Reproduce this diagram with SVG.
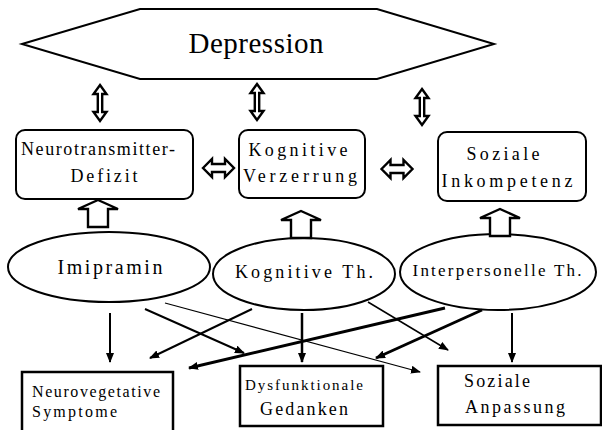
<svg xmlns="http://www.w3.org/2000/svg" width="602" height="430" viewBox="0 0 602 430">
<style>
text{font-family:"Liberation Serif","DejaVu Serif","Times New Roman",Times,serif;fill:#000;text-anchor:middle}
.shape{fill:#fff;stroke:#000;stroke-width:2}
.box{fill:#fff;stroke:#000;stroke-width:2.5}
.hol{fill:#fff;stroke:#000;stroke-width:2.4;stroke-linejoin:miter}
.c{fill:none;stroke:#000}
</style>
<defs>
<marker id="ah" viewBox="0 0 10 8" refX="9" refY="4" markerWidth="10" markerHeight="8" markerUnits="userSpaceOnUse" orient="auto">
<path d="M0,0 L10,4 L0,8 Z" fill="#000"/>
</marker>
<path id="vda" d="M0,-18 L6.5,-9 L2.2,-9 L2.2,9 L6.5,9 L0,18 L-6.5,9 L-2.2,9 L-2.2,-9 L-6.5,-9 Z"/>
<path id="hda" d="M-15.5,0 L-6.5,-9 L-6.5,-4 L6.5,-4 L6.5,-9 L15.5,0 L6.5,9 L6.5,4 L-6.5,4 L-6.5,9 Z"/>
<path id="up" d="M0,0 L20,9 L10,9 L10,27 L-10,27 L-10,9 L-20,9 Z"/>
</defs>

<g id="depression">
<polygon class="shape" points="22,44 140,9 377,9 494,44 377,79 140,79"/>
<text x="256" y="53" font-size="29" textLength="135" lengthAdjust="spacing">Depression</text>
</g>

<g id="neurotransmitter">
<rect class="shape" x="16" y="130" width="177" height="69" rx="9"/>
<text x="98" y="155" font-size="18" textLength="154" lengthAdjust="spacing">Neurotransmitter-</text>
<text x="104" y="182" font-size="18" textLength="67" lengthAdjust="spacing">Defizit</text>
</g>

<g id="kognitive-verzerrung">
<rect class="shape" x="239" y="130" width="126" height="68" rx="9"/>
<text x="298" y="156" font-size="18" textLength="99" lengthAdjust="spacing">Kognitive</text>
<text x="300" y="182" font-size="18" textLength="114" lengthAdjust="spacing">Verzerrung</text>
</g>

<g id="soziale-inkompetenz">
<rect class="shape" x="438" y="132" width="148" height="69" rx="9"/>
<text x="503" y="160" font-size="18" textLength="73" lengthAdjust="spacing">Soziale</text>
<text x="507" y="187" font-size="18" textLength="131" lengthAdjust="spacing">Inkompetenz</text>
</g>

<g id="imipramin">
<ellipse class="shape" cx="109" cy="267" rx="101" ry="35"/>
<text x="110" y="274" font-size="20" textLength="105" lengthAdjust="spacing">Imipramin</text>
</g>

<g id="kognitive-th">
<ellipse class="shape" cx="304" cy="274" rx="91" ry="36"/>
<text x="304" y="278" font-size="18" textLength="138" lengthAdjust="spacing">Kognitive Th.</text>
</g>

<g id="interpersonelle-th">
<ellipse class="shape" cx="498" cy="272" rx="98" ry="38"/>
<text x="497" y="276" font-size="17" textLength="169" lengthAdjust="spacing">Interpersonelle Th.</text>
</g>

<g id="neurovegetative">
<rect class="box" x="22" y="372" width="151" height="62"/>
<text x="96" y="397" font-size="16" textLength="128" lengthAdjust="spacing">Neurovegetative</text>
<text x="74.5" y="417" font-size="16" textLength="85" lengthAdjust="spacing">Symptome</text>
</g>

<g id="dysfunktionale">
<rect class="box" x="240" y="366" width="143" height="60"/>
<text x="304" y="390" font-size="15" textLength="118" lengthAdjust="spacing">Dysfunktionale</text>
<text x="304" y="415" font-size="18" textLength="88" lengthAdjust="spacing">Gedanken</text>
</g>

<g id="soziale-anpassung">
<rect class="box" x="438" y="366" width="163" height="59"/>
<text x="497" y="387" font-size="18" textLength="66" lengthAdjust="spacing">Soziale</text>
<text x="515" y="413" font-size="18" textLength="100" lengthAdjust="spacing">Anpassung</text>
</g>

<g id="connectors">
<use href="#vda" class="hol" x="100" y="103"/>
<use href="#vda" class="hol" x="257" y="102"/>
<use href="#vda" class="hol" x="422" y="107"/>
<use href="#hda" class="hol" x="218.5" y="168"/>
<use href="#hda" class="hol" x="397" y="169"/>
<use href="#up" class="hol" x="98" y="200"/>
<use href="#up" class="hol" x="301" y="211"/>
<use href="#up" class="hol" x="500" y="209"/>

<line class="c" stroke-width="2" x1="110" y1="313" x2="110" y2="362" marker-end="url(#ah)"/>
<line class="c" stroke-width="2" x1="145" y1="309" x2="244" y2="353" marker-end="url(#ah)"/>
<line class="c" stroke-width="1.2" x1="165" y1="303" x2="420" y2="372" marker-end="url(#ah)"/>
<line class="c" stroke-width="2" x1="252" y1="309" x2="150" y2="358" marker-end="url(#ah)"/>
<line class="c" stroke-width="2.5" x1="302" y1="313" x2="302" y2="362" marker-end="url(#ah)"/>
<line class="c" stroke-width="1.5" x1="368" y1="302" x2="448" y2="350" marker-end="url(#ah)"/>
<line class="c" stroke-width="3" x1="445" y1="308" x2="189" y2="368" marker-end="url(#ah)"/>
<line class="c" stroke-width="3" x1="482" y1="310" x2="376" y2="358" marker-end="url(#ah)"/>
<line class="c" stroke-width="2" x1="512" y1="313" x2="512" y2="362" marker-end="url(#ah)"/>
</g>
</svg>
